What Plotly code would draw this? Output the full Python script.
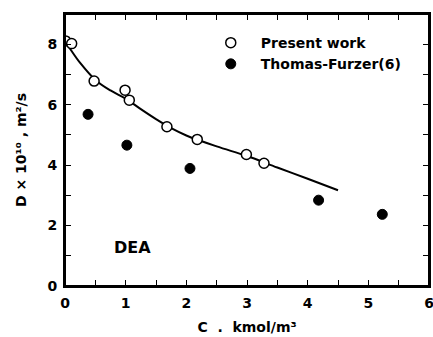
import plotly.graph_objects as go

# Present work (open circles)
present_c = [0.01, 0.11, 0.48, 0.99, 1.06, 1.68, 2.18, 2.99, 3.28]
present_d = [8.11, 8.02, 6.78, 6.48, 6.15, 5.27, 4.85, 4.35, 4.06]

# Thomas-Furzer(6) (filled circles)
tf_c = [0.38, 1.02, 2.06, 4.18, 5.23]
tf_d = [5.68, 4.66, 3.89, 2.84, 2.37]

# Smooth curve
curve_c = [0.0, 0.1, 0.25, 0.5, 0.75, 1.0, 1.25, 1.5, 1.75, 2.0, 2.5, 3.0, 3.5, 4.0, 4.5]
curve_d = [8.1, 7.8, 7.38, 6.82, 6.47, 6.2, 5.85, 5.52, 5.22, 4.98, 4.62, 4.3, 3.92, 3.55, 3.17]

X_RANGE = [0, 6]
Y_RANGE = [0, 9]

FONT = "DejaVu Sans"

fig = go.Figure()
fig.add_trace(go.Scatter(x=curve_c, y=curve_d, mode="lines", line=dict(color="black", width=2, shape="spline"),
                         showlegend=False, hoverinfo="skip"))
fig.add_trace(go.Scatter(x=present_c, y=present_d, mode="markers", name="Present work",
                         marker=dict(symbol="circle", size=10, color="white", line=dict(color="black", width=1.5))))
fig.add_trace(go.Scatter(x=tf_c, y=tf_d, mode="markers", name="Thomas-Furzer(6)",
                         marker=dict(symbol="circle", size=10, color="black", line=dict(color="black", width=1))))

fig.add_annotation(x=1.12, y=1.26, text="DEA", showarrow=False,
                   font=dict(family=FONT, size=16, color="black", weight="bold"))

tick_common = dict(ticks="inside", tickcolor="black", ticklen=6, tickwidth=1.2)
axis_common = dict(showline=True, linecolor="black", linewidth=2, mirror="ticks",
                   showgrid=False, zeroline=False, automargin=False, ticklabeloverflow="allow",
                   tickfont=dict(family=FONT, size=14, color="black", weight="bold"), **tick_common)

fig.update_layout(
    xaxis=dict(range=X_RANGE, dtick=1, tick0=0, ticklabelstandoff=3,
               minor=dict(dtick=0.5, **tick_common),
               title=dict(text="C  .  kmol/m³", standoff=12,
                          font=dict(family=FONT, size=14, color="black", weight="bold")),
               **axis_common),
    yaxis=dict(range=Y_RANGE, dtick=2, tick0=0, ticklabelstandoff=3,
               minor=dict(dtick=1, **tick_common),
               title=dict(text="D × 10¹⁰ , m²/s", standoff=18,
                          font=dict(family=FONT, size=14, color="black", weight="bold")),
               **axis_common),
    # mirrored inward ticks on top and right
    xaxis2=dict(range=X_RANGE, dtick=1, tick0=0, overlaying="x", side="top", anchor="y",
                showticklabels=False, showgrid=False, zeroline=False, showline=True,
                linecolor="black", linewidth=2, minor=dict(dtick=0.5, **tick_common), **tick_common),
    yaxis2=dict(range=Y_RANGE, dtick=2, tick0=0, overlaying="y", side="right", anchor="x",
                showticklabels=False, showgrid=False, zeroline=False, showline=True,
                linecolor="black", linewidth=2, minor=dict(dtick=1, **tick_common), **tick_common),
    # plot frame
    shapes=[dict(type="rect", xref="paper", yref="paper", x0=0, x1=1, y0=0, y1=1,
                 line=dict(color="black", width=2), fillcolor="rgba(0,0,0,0)", layer="above")],
)

fig.update_layout(
    width=433, height=337,
    margin=dict(l=65, r=4, t=14, b=51),
    paper_bgcolor="white", plot_bgcolor="white",
    legend=dict(x=0.373, y=0.952, xanchor="left", yanchor="top", bgcolor="rgba(0,0,0,0)",
                font=dict(family=FONT, size=14, color="black", weight="bold"), tracegroupgap=0,
                itemwidth=50),
)

# remove the default 8px page margin so the figure fills the window exactly
fig.write_html("out.html", config={"displayModeBar": False},
               post_script="document.body.style.margin='0';document.body.style.overflow='hidden';")
